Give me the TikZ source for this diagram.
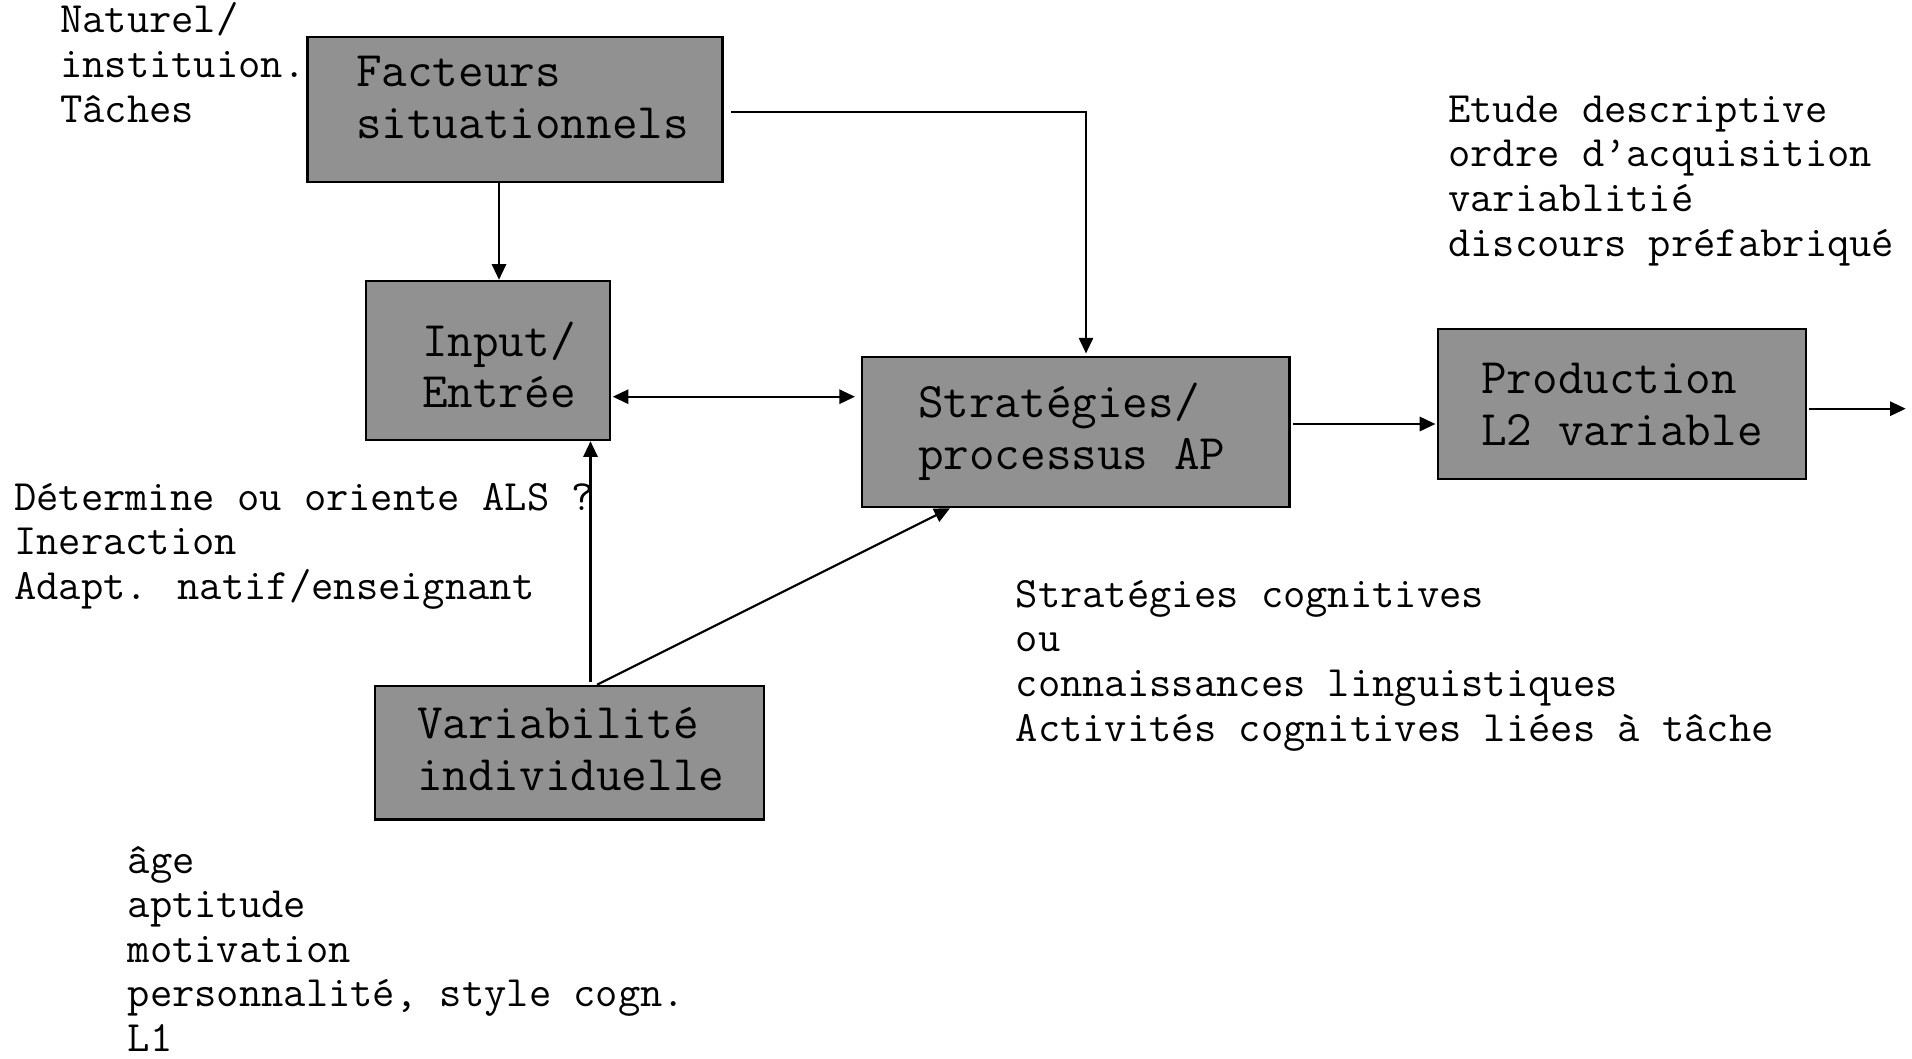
\documentclass[tikz,border=0pt]{standalone}
\usepackage{fontspec}
\usetikzlibrary{arrows.meta}
\definecolor{boxgray}{RGB}{145,145,145}
\tikzset{
  box/.style={draw=black, line width=2.5pt, fill=boxgray, inner sep=0pt},
  boxtext/.style={font=\fontsize{49.7}{51.5}\selectfont\ttfamily, align=left, anchor=base west, inner sep=0pt},
  note/.style={font=\fontsize{43.3}{44.6}\selectfont\ttfamily, align=left, anchor=base west, inner sep=0pt},
  tip/.style={-{Triangle[length=15.7pt,width=14.3pt]}},
  conn/.style={line width=2.2pt, tip},
  dconn/.style={line width=2.2pt, {Triangle[length=15.7pt,width=14.3pt]}-{Triangle[length=15.7pt,width=14.3pt]}},
}
\begin{document}
\begin{tikzpicture}[x=1pt,y=-1pt]
\useasboundingbox (0,0) rectangle (1912,1058);

% boxes
\node[box, minimum width=415.2pt, minimum height=145pt] (fact) at (515,109.5) {};
\node[box, minimum width=244pt, minimum height=159pt] (input) at (488,360.5) {};
\node[box, minimum width=427.4pt, minimum height=150pt] (strat) at (1075.7,432) {};
\node[box, minimum width=367.7pt, minimum height=150pt] (prod) at (1622,404) {};
\node[box, minimum width=389.2pt, minimum height=133.4pt] (var) at (569.4,752.7) {};

% box texts (anchor = baseline of the last line)
\node[boxtext] (tfact) at (356,138) {Facteurs\\situationnels};
\node[boxtext] (tinput) at (422,407.5) {Input/\\Entrée};
\node[boxtext] (tstrat) at (918,469) {Stratégies/\\processus AP};
\node[boxtext] (tprod) at (1481,445) {Production\\L2 variable};
\node[boxtext] (tvar) at (417,790) {Variabilité\\individuelle};

% notes (anchor = baseline of the last line)
\node[note] (n1) at (60,122) {Naturel/\\instituion.\\Tâches};
\node[note] (n2) at (1448,256) {Etude descriptive\\ordre d’acquisition\\variablitié\\discours préfabriqué};
\node[note] (n3) at (14,599.5) {Détermine ou oriente ALS ?\\Ineraction\\Adapt. natif/enseignant};
\node[note] (n4) at (1015.5,741) {Stratégies cognitives\\ou\\connaissances linguistiques\\Activités cognitives liées à tâche};
\node[note] (n5) at (127.5,1051.5) {âge\\aptitude\\motivation\\personnalité, style cogn.\\L1};

% helper coordinates
\coordinate (c1) at (1086,112);
\coordinate (xa) at (499,0);
\coordinate (ya) at (0,396.7);
\coordinate (xb) at (590.5,0);
\coordinate (xc) at (597,0);
\coordinate (xd) at (950,0);
\coordinate (yb) at (0,424);
\coordinate (yc) at (0,408.7);
\coordinate (out) at (1905.7,408.7);

% connectors
\draw[conn, shorten >=2.3pt] ([xshift=7pt]fact.east |- c1) -- (c1) -- (c1 |- strat.north);
\draw[conn] (fact.south -| xa) -- (input.north -| xa);
\draw[dconn, shorten <=1.5pt, shorten >=5.8pt] (input.east |- ya) -- (strat.west |- ya);
\draw[conn, shorten <=3pt] (var.north -| xb) -- (input.south -| xb);
\draw[conn] (var.north -| xc) -- (strat.south -| xd);
\draw[conn, shorten <=2.2pt, shorten >=1.5pt] (strat.east |- yb) -- (prod.west |- yb);
\draw[conn, shorten <=1.8pt] (prod.east |- yc) -- (out);
\end{tikzpicture}
\end{document}
